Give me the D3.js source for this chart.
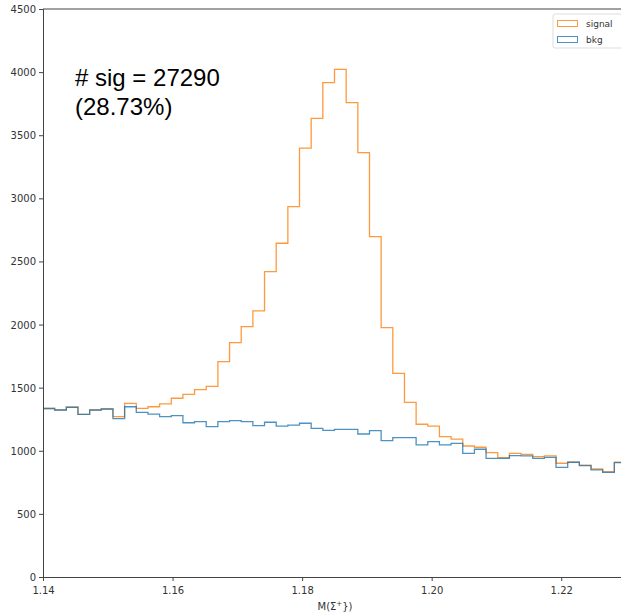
<!DOCTYPE html>
<html>
<head>
<meta charset="utf-8">
<script src="https://cdn.jsdelivr.net/npm/d3@7"></script>
<style>
  body { margin: 0; background: #fff; }
  svg { display: block; }
</style>
</head>
<body>
<div id="chart"></div>
<script>
// histogram binning: 50 bins over [1.14, 1.23]
const binLo = 1.14;
const binHi = 1.23;
const nBins = 50;

// counts per bin
const signal = [
  1335, 1323, 1345, 1289, 1323, 1331, 1270, 1376, 1336, 1349,
  1371, 1416, 1447, 1485, 1510, 1706, 1857, 1983, 2108, 2419,
  2644, 2934, 3397, 3634, 3917, 4022, 3758, 3362, 2696, 1975,
  1614, 1384, 1210, 1195, 1112, 1093, 1038, 1028, 985, 945,
  980, 972, 953, 959, 901, 909, 887, 856, 834, 909
];
const bkg = [
  1335, 1323, 1345, 1289, 1323, 1331, 1254, 1349, 1305, 1291,
  1270, 1278, 1222, 1231, 1191, 1231, 1239, 1231, 1199, 1226,
  1196, 1204, 1218, 1178, 1162, 1170, 1170, 1133, 1159, 1080,
  1104, 1104, 1046, 1072, 1046, 1059, 980, 1012, 940, 940,
  961, 959, 940, 948, 869, 909, 882, 848, 829, 906
];

const xTicks = [1.14, 1.16, 1.18, 1.20, 1.22];
const yTicks = [0, 500, 1000, 1500, 2000, 2500, 3000, 3500, 4000, 4500];
const seriesNames = ["signal", "bkg"];
const seriesColors = ["#ff7f0e", "#1f77b4"];

const W = 621, H = 616;
const margin = {top: 9, left: 43, bottom: 39};

const svg = d3.select("#chart").append("svg")
    .attr("width", W)
    .attr("height", H);

const x = d3.scaleLinear().domain([binLo, binHi]).range([margin.left, 626]);
const y = d3.scaleLinear().domain([0, 4500]).range([H - margin.bottom, margin.top]);

svg.append("clipPath").attr("id", "plotclip")
  .append("rect")
    .attr("x", x(binLo)).attr("y", y(4500))
    .attr("width", x(binHi) - x(binLo)).attr("height", y(0) - y(4500));

// turn bin counts into a step outline like histtype='step'
const binW = (binHi - binLo) / nBins;
function stepPoints(vals) {
  const pts = [[binLo, 0]];
  vals.forEach(function(v, i) {
    pts.push([binLo + i * binW, v]);
    pts.push([binLo + (i + 1) * binW, v]);
  });
  pts.push([binHi, 0]);
  return pts;
}

const line = d3.line()
    .x(function(d) { return x(d[0]); })
    .y(function(d) { return y(d[1]); });

const plot = svg.append("g").attr("clip-path", "url(#plotclip)");
[signal, bkg].forEach(function(vals, k) {
  plot.append("path")
      .attr("d", line(stepPoints(vals)))
      .attr("fill", "none")
      .attr("stroke", seriesColors[k])
      .attr("stroke-opacity", 0.8)
      .attr("stroke-width", 1.3);
});

// axes
const xAxis = svg.append("g")
    .attr("transform", "translate(0," + y(0) + ")")
    .call(d3.axisBottom(x).tickValues(xTicks).tickFormat(d3.format(".2f")).tickSizeOuter(0).tickSize(4));
const yAxis = svg.append("g")
    .attr("transform", "translate(" + x(binLo) + ",0)")
    .call(d3.axisLeft(y).tickValues(yTicks).tickFormat(d3.format("d")).tickSizeOuter(0).tickSize(4));

[xAxis, yAxis].forEach(function(a) {
  a.selectAll("text")
      .attr("font-family", "DejaVu Sans, sans-serif")
      .attr("font-size", 10)
      .attr("fill", "#333");
  a.selectAll("line").attr("stroke", "#444");
  a.select(".domain").attr("stroke", "#444");
});
xAxis.selectAll("text").attr("dy", "0.95em");
yAxis.selectAll("text").attr("dy", "0.35em");

// top spine
svg.append("line")
    .attr("x1", x(binLo)).attr("x2", W)
    .attr("y1", y(4500)).attr("y2", y(4500))
    .attr("stroke", "#444");

// x label: M(Σ+})
const xl = svg.append("text")
    .attr("x", 335).attr("y", 610)
    .attr("text-anchor", "middle")
    .attr("font-family", "DejaVu Sans, sans-serif")
    .attr("font-size", 10)
    .attr("fill", "#333");
xl.append("tspan").text("M(Σ");
xl.append("tspan").attr("font-size", 7).attr("dy", -4).text("+");
xl.append("tspan").attr("dy", 4).text("})");

// annotation
const ann = svg.append("text")
    .attr("x", 75).attr("y", 86)
    .attr("font-family", "Liberation Sans, Arial, sans-serif")
    .attr("font-size", 24)
    .attr("fill", "#000");
ann.append("tspan").attr("x", 75).text("# sig = 27290");
ann.append("tspan").attr("x", 75).attr("dy", 29).text("(28.73%)");

// legend
const leg = svg.append("g");
leg.append("rect")
    .attr("x", 553).attr("y", 14)
    .attr("width", 80).attr("height", 34)
    .attr("rx", 2)
    .attr("fill", "#fff")
    .attr("stroke", "#ddd");
seriesNames.forEach(function(name, i) {
  leg.append("rect")
      .attr("x", 557.5).attr("y", 20.5 + i * 16)
      .attr("width", 20).attr("height", 6)
      .attr("fill", "none")
      .attr("stroke", seriesColors[i])
      .attr("stroke-opacity", 0.8);
  leg.append("text")
      .attr("x", 586).attr("y", 27 + i * 16)
      .attr("font-family", "DejaVu Sans, sans-serif")
      .attr("font-size", 9)
      .attr("fill", "#333")
      .text(name);
});
</script>
</body>
</html>
